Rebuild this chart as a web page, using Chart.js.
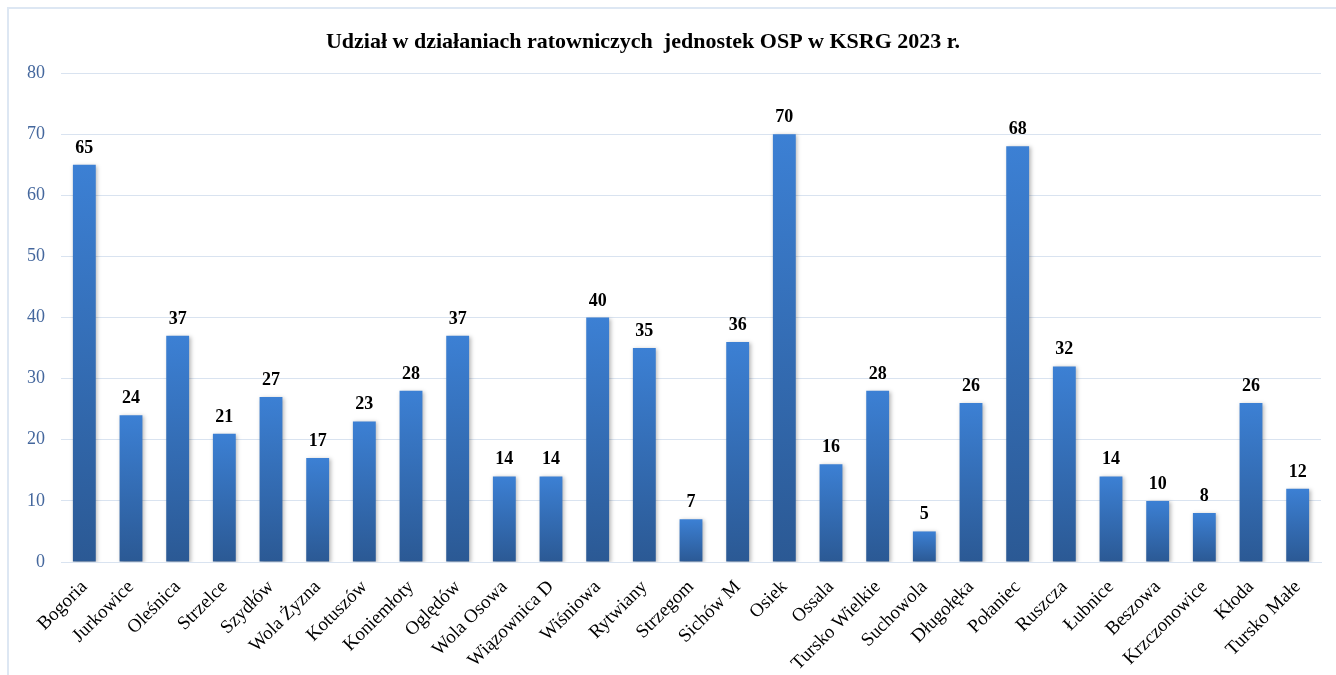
<!DOCTYPE html>
<html>
<head>
<meta charset="utf-8">
<script src="https://cdn.jsdelivr.net/npm/chart.js@4.4.1/dist/chart.umd.min.js"></script>
<style>
  html, body { margin: 0; padding: 0; background: #ffffff; overflow: hidden; }
  #wrap { position: relative; width: 1336px; height: 675px; }
  #frame { position: absolute; left: 7px; top: 7px; width: 1340px; height: 680px; border: 2px solid #dde7f3; box-sizing: border-box; pointer-events: none; }
  canvas { position: absolute; left: 0; top: 0; }
</style>
</head>
<body>
<div id="wrap">
  <canvas id="c" width="1336" height="675"></canvas>
  <div id="frame"></div>
</div>
<script>
const titleText = 'Udział w działaniach ratowniczych  jednostek OSP w KSRG 2023 r.';
const categories = ['Bogoria','Jurkowice','Oleśnica','Strzelce','Szydłów','Wola Żyzna','Kotuszów','Koniemłoty','Oględów','Wola Osowa','Wiązownica D','Wiśniowa','Rytwiany','Strzegom','Sichów M','Osiek','Ossala','Tursko Wielkie','Suchowola','Długołęka','Połaniec','Ruszcza','Łubnice','Beszowa','Krzczonowice','Kłoda','Tursko Małe'];
const values = [65,24,37,21,27,17,23,28,37,14,14,40,35,7,36,70,16,28,5,26,68,32,14,10,8,26,12];
const yTicks = [0,10,20,30,40,50,60,70,80];

const serif = "'Liberation Serif', 'Times New Roman', serif";

function barGradient(ctx) {
  const chart = ctx.chart;
  const area = chart.chartArea;
  if (!area || ctx.dataIndex === undefined) return '#3670bd';
  const y = chart.scales.y;
  const top = y.getPixelForValue(values[ctx.dataIndex]);
  const base = y.getPixelForValue(0);
  const g = chart.ctx.createLinearGradient(0, top, 0, base);
  g.addColorStop(0, '#3c80d4');
  g.addColorStop(1, '#2b5994');
  return g;
}

const shadowPlugin = {
  id: 'barShadow',
  beforeDatasetDraw(chart) {
    const c = chart.ctx;
    c.save();
    c.shadowColor = 'rgba(0,0,0,0.28)';
    c.shadowBlur = 4;
    c.shadowOffsetX = 1.5;
    c.shadowOffsetY = 1;
  },
  afterDatasetDraw(chart) {
    chart.ctx.restore();
  }
};

const labelPlugin = {
  id: 'valueLabels',
  afterDatasetsDraw(chart) {
    const c = chart.ctx;
    const meta = chart.getDatasetMeta(0);
    c.save();
    c.font = 'bold 18px ' + serif;
    c.fillStyle = '#000000';
    c.textAlign = 'center';
    c.textBaseline = 'alphabetic';
    meta.data.forEach((bar, i) => {
      c.fillText(String(values[i]), bar.x, bar.y - 12);
    });
    c.restore();
  }
};

const titlePlugin = {
  id: 'customTitle',
  afterDraw(chart) {
    const c = chart.ctx;
    c.save();
    c.font = 'bold 22px ' + serif;
    c.fillStyle = '#000000';
    c.textAlign = 'center';
    c.textBaseline = 'middle';
    c.fillText(titleText, 643, 42);
    c.restore();
  }
};

new Chart(document.getElementById('c'), {
  type: 'bar',
  data: {
    labels: categories,
    datasets: [{
      data: values,
      backgroundColor: barGradient,
      borderWidth: 0,
      barPercentage: 0.49,
      categoryPercentage: 1.0
    }]
  },
  options: {
    responsive: false,
    animation: false,
    devicePixelRatio: 1,
    layout: { padding: { left: 0, right: 15, top: 73, bottom: 0 } },
    plugins: {
      legend: { display: false },
      tooltip: { enabled: false },
      title: { display: false }
    },
    scales: {
      x: {
        grid: { display: false, drawTicks: false },
        border: { display: true, color: '#d9e3f0', width: 1 },
        ticks: {
          color: '#000000',
          font: { family: serif, size: 19 },
          minRotation: 45,
          maxRotation: 45,
          autoSkip: false,
          padding: 14
        },
        afterFit(scale) { scale.height = 113; }
      },
      y: {
        min: 0,
        max: 80,
        afterBuildTicks(scale) { scale.ticks = yTicks.map(v => ({ value: v })); },
        grid: { color: '#d9e3f0', lineWidth: 1, drawTicks: false },
        border: { display: false },
        ticks: {
          color: '#44679d',
          font: { family: serif, size: 18 },
          padding: 16
        },
        afterFit(scale) { scale.width = 61; }
      }
    }
  },
  plugins: [shadowPlugin, labelPlugin, titlePlugin]
});
</script>
</body>
</html>
